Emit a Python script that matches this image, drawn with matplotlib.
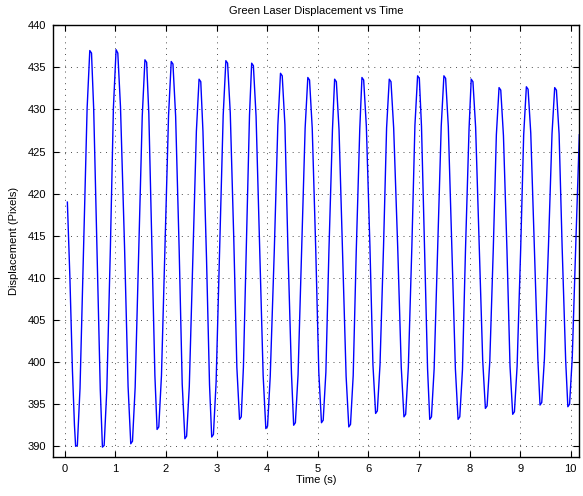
import matplotlib
matplotlib.use("Agg")
import matplotlib.pyplot as plt

plt.rcParams['font.family'] = ['Liberation Sans', 'DejaVu Sans']

# Time (s) and displacement (pixels)
time_s = [
    0.05, 0.10, 0.15, 0.19, 0.213, 0.247,
    0.30, 0.37, 0.44, 0.493, 0.527,
    0.57, 0.635, 0.70, 0.743, 0.777,
    0.83, 0.90, 0.96, 1.013, 1.047,
    1.10, 1.18, 1.25, 1.303, 1.337,
    1.39, 1.46, 1.53, 1.583, 1.617,
    1.66, 1.72, 1.78, 1.823, 1.857,
    1.91, 1.98, 2.05, 2.103, 2.137,
    2.19, 2.26, 2.32, 2.373, 2.407,
    2.46, 2.53, 2.60, 2.653, 2.687,
    2.73, 2.80, 2.86, 2.903, 2.937,
    2.99, 3.06, 3.13, 3.183, 3.217,
    3.27, 3.34, 3.40, 3.453, 3.487,
    3.53, 3.59, 3.65, 3.693, 3.727,
    3.78, 3.85, 3.92, 3.973, 4.007,
    4.06, 4.14, 4.21, 4.263, 4.297,
    4.35, 4.41, 4.48, 4.523, 4.557,
    4.61, 4.68, 4.75, 4.803, 4.837,
    4.89, 4.96, 5.02, 5.073, 5.107,
    5.16, 5.22, 5.29, 5.333, 5.367,
    5.42, 5.49, 5.56, 5.613, 5.647,
    5.70, 5.76, 5.83, 5.873, 5.907,
    5.96, 6.03, 6.09, 6.143, 6.177,
    6.23, 6.30, 6.36, 6.413, 6.447,
    6.50, 6.58, 6.65, 6.703, 6.737,
    6.79, 6.86, 6.92, 6.973, 7.007,
    7.05, 7.11, 7.17, 7.213, 7.247,
    7.30, 7.37, 7.44, 7.493, 7.527,
    7.58, 7.65, 7.72, 7.773, 7.807,
    7.86, 7.92, 7.99, 8.033, 8.067,
    8.12, 8.19, 8.26, 8.313, 8.347,
    8.40, 8.47, 8.53, 8.583, 8.617,
    8.67, 8.74, 8.80, 8.853, 8.887,
    8.94, 9.01, 9.07, 9.123, 9.157,
    9.21, 9.28, 9.35, 9.393, 9.427,
    9.48, 9.56, 9.63, 9.683, 9.717,
    9.77, 9.83, 9.90, 9.943, 9.977,
    10.03, 10.10, 10.17,
]
displacement_px = [
    419.0, 410.0, 399.0, 392.5, 390.0, 390.1,
    396.9, 413.5, 430.1, 437.0, 436.7,
    430.1, 413.4, 396.8, 389.9, 390.1,
    396.8, 413.5, 430.2, 437.1, 436.7,
    430.3, 413.7, 397.1, 390.3, 390.6,
    397.0, 413.1, 429.2, 435.9, 435.6,
    429.5, 414.0, 398.4, 392.0, 392.3,
    398.4, 413.9, 429.3, 435.7, 435.4,
    429.2, 413.3, 397.4, 390.9, 391.2,
    397.1, 412.3, 427.4, 433.6, 433.3,
    427.4, 412.4, 397.3, 391.1, 391.4,
    397.6, 413.5, 429.3, 435.8, 435.5,
    429.6, 414.5, 399.4, 393.2, 393.5,
    399.4, 414.4, 429.3, 435.5, 435.2,
    429.2, 413.8, 398.4, 392.1, 392.4,
    398.3, 413.2, 428.1, 434.3, 434.0,
    428.2, 413.4, 398.6, 392.5, 392.8,
    398.5, 413.2, 427.8, 433.8, 433.5,
    427.8, 413.3, 398.8, 392.8, 393.1,
    398.8, 413.2, 427.6, 433.6, 433.3,
    427.6, 413.0, 398.3, 392.3, 392.6,
    398.4, 413.1, 427.7, 433.8, 433.5,
    428.0, 413.9, 399.7, 393.9, 394.2,
    399.7, 413.8, 427.8, 433.6, 433.3,
    427.8, 413.6, 399.4, 393.5, 393.8,
    399.4, 413.8, 428.1, 434.0, 433.7,
    428.0, 413.6, 399.2, 393.2, 393.5,
    399.2, 413.6, 428.0, 434.0, 433.7,
    428.0, 413.6, 399.2, 393.2, 393.5,
    399.1, 413.4, 427.7, 433.6, 433.3,
    427.9, 414.1, 400.2, 394.5, 394.8,
    400.1, 413.6, 427.0, 432.6, 432.3,
    426.9, 413.2, 399.5, 393.8, 394.1,
    399.5, 413.3, 427.0, 432.7, 432.4,
    427.2, 413.8, 400.4, 394.9, 395.2,
    400.4, 413.8, 427.1, 432.6, 432.3,
    427.1, 413.7, 400.2, 394.7, 395.0,
    400.5, 414.0, 427.0,
]

x_ticks = [0, 1, 2, 3, 4, 5, 6, 7, 8, 9, 10]
y_ticks = [390, 395, 400, 405, 410, 415, 420, 425, 430, 435, 440]

fig = plt.figure(figsize=(5.83, 4.96), dpi=100)
ax = fig.add_axes([0.0904, 0.0790, 0.9033, 0.8700])

ax.plot(time_s, displacement_px, color=(0, 0, 1), linewidth=1.0)

ax.set_xlim(-0.24, 10.17)
ax.set_ylim(388.75, 440)
ax.set_xticks(x_ticks)
ax.set_yticks(y_ticks)

ax.grid(True, color='0.3', linestyle=(0, (1, 5)), linewidth=0.7)
ax.tick_params(direction='in', top=True, right=True, length=4, width=0.8,
               labelsize=8, colors='black', pad=5)
for s in ax.spines.values():
    s.set_linewidth(1.0)
    s.set_color('black')

ax.set_title('Green Laser Displacement vs Time', fontsize=8, pad=8)
ax.set_xlabel('Time (s)', fontsize=8, labelpad=1)
ax.set_ylabel('Displacement (Pixels)', fontsize=8, labelpad=6)

fig.savefig('out.png', dpi=100)
